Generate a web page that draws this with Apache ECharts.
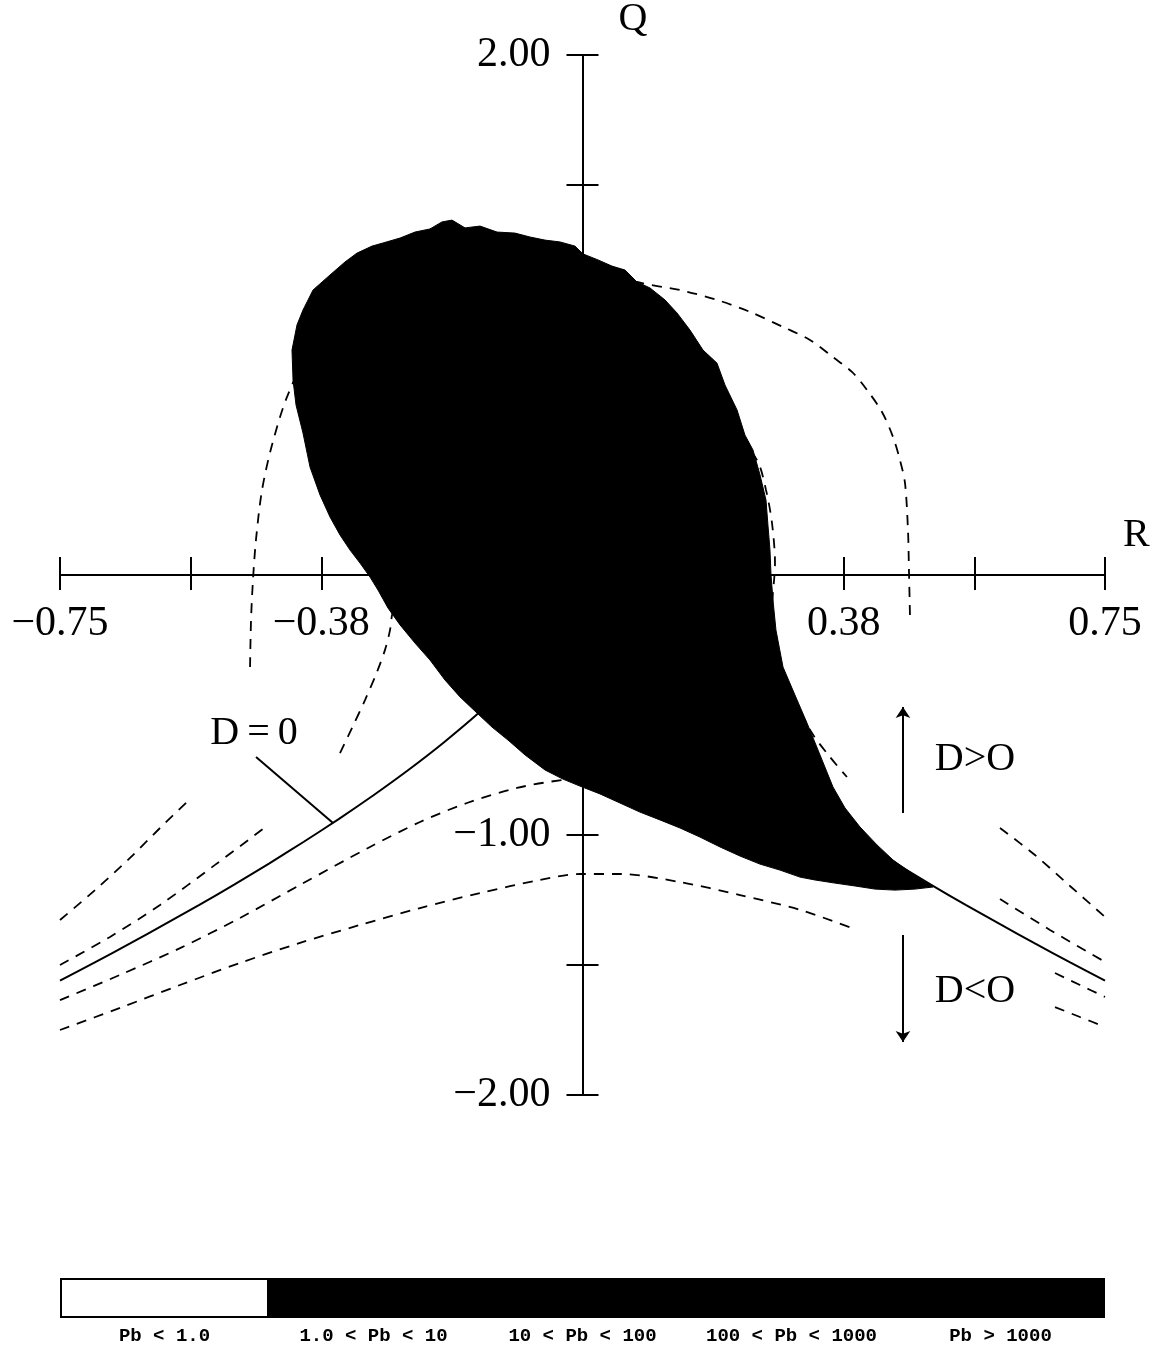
<!DOCTYPE html>
<html>
<head>
<meta charset="utf-8">
<title>Q-R plane</title>
<script src="https://cdn.jsdelivr.net/npm/echarts@6/dist/echarts.min.js"></script>
<style>
    html, body { margin: 0; padding: 0; background: #fff; }
    #qrChart { width: 1156px; height: 1351px; }
</style>
</head>
<body>
<div id="qrChart"></div>
<script>
// 坐标轴刻度
var xTickValues = [-0.75, -0.5625, -0.375, -0.1875, 0, 0.1875, 0.375, 0.5625, 0.75];
var xTickLabels = ['\u22120.75', '', '\u22120.38', '', '', '', '0.38', '', '0.75'];
var yTickValues = [-2, -1.5, -1, -0.5, 0, 0.5, 1, 1.5, 2];
var yTickLabels = ['\u22122.00', '', '\u22121.00', '', '', '', '1.00', '', '2.00'];

// 概率密度区域 (Pb > 1) 的外轮廓
var blobR = [-0.4155, -0.4170, -0.4098, -0.4012, -0.3868, -0.3624, -0.3409, -0.3237, -0.3021, -0.2863,
    -0.2619, -0.2404, -0.2189, -0.2017, -0.1873, -0.1686, -0.1471, -0.1227, -0.0969, -0.0754,
    -0.0538, -0.0323, -0.0108, 0.0007, 0.0222, 0.0423, 0.0610, 0.0782, 0.0969, 0.1184,
    0.1356, 0.1543, 0.1730, 0.1930, 0.2045, 0.2218, 0.2332, 0.2447, 0.2548, 0.2634,
    0.2662, 0.2691, 0.2706, 0.2734, 0.2777, 0.2878, 0.3050, 0.3222, 0.3409, 0.3595,
    0.3768, 0.3983, 0.4227, 0.4457, 0.4701, 0.5031,
    0.4772, 0.4485, 0.4198, 0.3911, 0.3624, 0.3337, 0.3122, 0.2835, 0.2548, 0.2261,
    0.1974, 0.1686, 0.1399, 0.1112, 0.0825, 0.0538, 0.0251, -0.0036, -0.0280, -0.0538,
    -0.0825, -0.1069, -0.1299, -0.1514, -0.1758, -0.1974, -0.2189, -0.2404, -0.2619, -0.2792,
    -0.2935, -0.3050, -0.3194, -0.3337, -0.3481, -0.3624, -0.3768, -0.3911, -0.4012, -0.4112];
var blobQ = [0.750, 0.865, 0.962, 1.019, 1.096, 1.154, 1.204, 1.238, 1.265, 1.277,
    1.296, 1.319, 1.331, 1.358, 1.365, 1.335, 1.342, 1.319, 1.315, 1.300,
    1.288, 1.281, 1.265, 1.235, 1.212, 1.188, 1.173, 1.127, 1.104, 1.058,
    1.008, 0.942, 0.865, 0.815, 0.731, 0.635, 0.538, 0.481, 0.385, 0.288,
    0.192, 0.096, 0, -0.096, -0.212, -0.354, -0.462, -0.569, -0.692, -0.815,
    -0.896, -0.969, -1.038, -1.096, -1.142, -1.200,
    -1.208, -1.212, -1.208, -1.196, -1.185, -1.173, -1.162, -1.135, -1.112, -1.081,
    -1.046, -1.008, -0.973, -0.942, -0.912, -0.877, -0.842, -0.812, -0.785, -0.750,
    -0.692, -0.635, -0.585, -0.531, -0.469, -0.404, -0.327, -0.262, -0.192, -0.127,
    -0.058, -0.008, 0.046, 0.096, 0.154, 0.223, 0.308, 0.415, 0.546, 0.654];

// D=0 曲线
var curveD0 = [[-0.75, -1.560], [-0.70, -1.490], [-0.65, -1.418], [-0.60, -1.344], [-0.55, -1.269],
    [-0.50, -1.191], [-0.45, -1.110], [-0.40, -1.026], [-0.35, -0.939], [-0.30, -0.847],
    [-0.25, -0.750], [-0.20, -0.646], [-0.15, -0.533], [-0.10, -0.407], [-0.05, -0.257], [0, 0],
    [0.05, -0.257], [0.10, -0.407], [0.15, -0.533], [0.20, -0.646], [0.25, -0.750],
    [0.30, -0.847], [0.35, -0.939], [0.40, -1.026], [0.45, -1.110], [0.50, -1.191],
    [0.55, -1.269], [0.60, -1.344], [0.65, -1.418], [0.70, -1.490], [0.75, -1.560]];

// 虚线
var dashOuter = [[-0.4772, -0.354], [-0.4758, -0.173], [-0.4730, -0.019], [-0.4687, 0.135], [-0.4600, 0.327],
    [-0.4457, 0.500], [-0.4241, 0.685], [-0.3911, 0.865], [-0.3337, 1.038], [-0.2332, 1.173],
    [-0.0897, 1.219], [0.0251, 1.181], [0.0782, 1.127], [0.1399, 1.096], [0.1930, 1.058],
    [0.2404, 1.012], [0.2878, 0.954], [0.3265, 0.904], [0.3595, 0.838], [0.3868, 0.781],
    [0.4083, 0.712], [0.4299, 0.627], [0.4457, 0.531], [0.4557, 0.442], [0.4629, 0.354],
    [0.4672, 0.173], [0.4686, 0.019], [0.4701, -0.162]];
var dashInner = [[-0.3481, -0.685], [-0.3308, -0.588], [-0.3122, -0.481], [-0.2950, -0.373], [-0.2835, -0.288],
    [-0.2763, -0.212], [-0.2734, -0.154], [-0.2619, -0.019], [-0.2332, 0.173], [-0.1615, 0.519],
    [-0.0610, 0.731], [0.0538, 0.750], [0.1543, 0.673], [0.2189, 0.538], [0.2505, 0.442],
    [0.2634, 0.327], [0.2720, 0.200], [0.2763, 0.046], [0.2720, -0.135], [0.2806, -0.327],
    [0.3050, -0.481], [0.3294, -0.608], [0.3552, -0.700], [0.3796, -0.777]];
var dashA = [[-0.75, -1.327], [-0.6997, -1.212], [-0.6495, -1.088], [-0.6064, -0.973], [-0.5619, -0.858]];
var dashB = [[-0.75, -1.500], [-0.6782, -1.392], [-0.6064, -1.269], [-0.5275, -1.115], [-0.4514, -0.962]];
var dashC = [[-0.75, -1.635], [-0.6638, -1.538], [-0.5777, -1.435], [-0.4916, -1.319], [-0.4055, -1.192],
    [-0.3050, -1.046], [-0.2332, -0.950], [-0.1658, -0.877], [-0.0940, -0.819], [-0.0280, -0.788],
    [0.0251, -0.777]];
var dashE = [[-0.75, -1.750], [-0.6638, -1.665], [-0.5777, -1.577], [-0.4916, -1.492], [-0.4055, -1.415],
    [-0.3194, -1.346], [-0.2332, -1.281], [-0.1471, -1.223], [-0.0610, -1.173], [-0.0036, -1.150],
    [0.0538, -1.150], [0.1399, -1.181], [0.2261, -1.231], [0.3122, -1.288], [0.3868, -1.358]];
var dashF = [[0.5993, -0.973], [0.6495, -1.077], [0.6997, -1.196], [0.75, -1.315]];
var dashG = [[0.5993, -1.246], [0.6710, -1.365], [0.75, -1.488]];
var dashH = [[0.6782, -1.531], [0.7141, -1.577], [0.75, -1.623]];
var dashI = [[0.6782, -1.662], [0.7141, -1.700], [0.75, -1.738]];

// 标注
var noteLabels = [
    { name: 'D\u2009=\u20090', value: [-0.4715, -0.608] },
    { name: 'D>O', value: [0.5634, -0.708] },
    { name: 'D<O', value: [0.5634, -1.600] }
];
var pointerLine = [[-0.4686, -0.700], [-0.3581, -0.954]];
var arrowUp = [[0.46, -0.915], [0.46, -0.508]];
var arrowDown = [[0.46, -1.385], [0.46, -1.796]];

// 色标
var pbLabels = ['Pb < 1.0', '1.0 < Pb < 10', '10 < Pb < 100', '100 < Pb < 1000', 'Pb > 1000'];
var pbValues = [1, 1, 1, 1, 1];
var pbColors = ['#ffffff', '#000000', '#000000', '#000000', '#000000'];

var serif = 'Liberation Serif';

function pickLabel(values, labels, v) {
    for (var i = 0; i < values.length; i++) {
        if (Math.abs(values[i] - v) < 1e-6) return labels[i];
    }
    return '';
}

function dashSeries(data) {
    return {
        type: 'line',
        data: data,
        xAxisIndex: 0,
        yAxisIndex: 0,
        symbol: 'none',
        smooth: 0.3,
        clip: false,
        z: 3,
        lineStyle: { color: '#000', width: 1.8, type: [10, 8] }
    };
}

function renderBlob(params, api) {
    if (params.dataIndex !== 0) return;
    var pts = [];
    for (var i = 0; i < blobR.length; i++) {
        pts.push(api.coord([blobR[i], blobQ[i]]));
    }
    return {
        type: 'polygon',
        shape: { points: pts },
        style: { fill: '#000', stroke: '#000', lineWidth: 1 }
    };
}

function qrChart() {
    var myChart = echarts.init(document.getElementById('qrChart'));

    // 坐标轴画在原点处 (网格中心)
    var xOffset = -520;
    var yOffset = -522.5;

    var tickLine = { color: '#000', width: 2 };
    var axisLine = { onZero: false, lineStyle: { color: '#000', width: 2 } };
    var labelFont = { fontFamily: serif, fontSize: 42, color: '#000' };

    var blobData = [];
    for (var i = 0; i < blobR.length; i++) blobData.push([blobR[i], blobQ[i]]);

    var series = [
        dashSeries(dashOuter), dashSeries(dashInner), dashSeries(dashA), dashSeries(dashB),
        dashSeries(dashC), dashSeries(dashE), dashSeries(dashF), dashSeries(dashG),
        dashSeries(dashH), dashSeries(dashI),
        {
            type: 'line',
            data: curveD0,
            xAxisIndex: 0,
            yAxisIndex: 0,
            symbol: 'none',
            smooth: 0.2,
            clip: false,
            z: 3,
            lineStyle: { color: '#000', width: 2 }
        },
        {
            type: 'custom',
            data: blobData,
            xAxisIndex: 0,
            yAxisIndex: 0,
            encode: { x: 0, y: 1 },
            renderItem: renderBlob,
            clip: false,
            z: 5
        },
        {
            type: 'lines',
            coordinateSystem: 'cartesian2d',
            xAxisIndex: 0,
            yAxisIndex: 0,
            z: 6,
            lineStyle: { color: '#000', width: 2, opacity: 1 },
            symbol: ['none', 'none'],
            data: [{ coords: pointerLine }]
        },
        {
            type: 'lines',
            coordinateSystem: 'cartesian2d',
            xAxisIndex: 0,
            yAxisIndex: 0,
            z: 6,
            lineStyle: { color: '#000', width: 2, opacity: 1 },
            symbol: ['none', 'arrow'],
            symbolSize: [8, 11],
            data: [{ coords: arrowUp }, { coords: arrowDown }]
        },
        {
            type: 'scatter',
            data: noteLabels,
            xAxisIndex: 0,
            yAxisIndex: 0,
            symbolSize: 0,
            z: 7,
            itemStyle: { opacity: 1 },
            label: {
                show: true,
                position: 'inside',
                formatter: '{b}',
                fontFamily: serif,
                fontSize: 40,
                color: '#000',
                opacity: 1
            }
        },
        {
            type: 'bar',
            xAxisIndex: 2,
            yAxisIndex: 2,
            barWidth: '100%',
            barCategoryGap: 0,
            data: pbValues.map(function (v, i) {
                return {
                    value: v,
                    itemStyle: { color: pbColors[i], borderColor: '#000', borderWidth: 2 }
                };
            })
        }
    ];

    var option = {
        animation: false,
        backgroundColor: '#fff',
        grid: [
            { left: 60, right: 51, top: 55, bottom: 256, containLabel: false, outerBoundsMode: 'none' },
            { left: 60, right: 51, top: 1278, height: 40, containLabel: false, outerBoundsMode: 'none' }
        ],
        xAxis: [{
            type: 'value',
            gridIndex: 0,
            position: 'bottom',
            offset: xOffset,
            min: -0.75,
            max: 0.75,
            interval: 0.1875,
            axisLine: axisLine,
            axisTick: { inside: true, length: 18, lineStyle: tickLine },
            axisLabel: Object.assign({
                margin: 28,
                showMinLabel: true,
                showMaxLabel: true,
                formatter: function (v) { return pickLabel(xTickValues, xTickLabels, v); }
            }, labelFont),
            splitLine: { show: false },
            name: 'R',
            nameLocation: 'end',
            nameGap: 18,
            nameTextStyle: { fontFamily: serif, fontSize: 40, color: '#000', verticalAlign: 'bottom', padding: [0, 0, 20, 0] }
        }, {
            type: 'value',
            gridIndex: 0,
            position: 'bottom',
            offset: xOffset,
            min: -0.75,
            max: 0.75,
            interval: 0.1875,
            axisLine: axisLine,
            axisTick: { inside: false, length: 15, lineStyle: tickLine },
            axisLabel: { show: false },
            splitLine: { show: false }
        }, {
            type: 'category',
            gridIndex: 1,
            data: pbLabels,
            axisLine: { show: false },
            axisTick: { show: false },
            axisLabel: { interval: 0, margin: 9, fontFamily: 'Liberation Mono', fontSize: 19, fontWeight: 'bold', color: '#000' }
        }],
        yAxis: [{
            type: 'value',
            gridIndex: 0,
            position: 'left',
            offset: yOffset,
            min: -2,
            max: 2,
            interval: 0.5,
            axisLine: axisLine,
            axisTick: { inside: true, length: 16, lineStyle: tickLine },
            axisLabel: Object.assign({
                margin: 32,
                showMinLabel: true,
                showMaxLabel: true,
                formatter: function (v) { return pickLabel(yTickValues, yTickLabels, v); }
            }, labelFont),
            splitLine: { show: false },
            name: 'Q',
            nameLocation: 'end',
            nameGap: 16,
            nameTextStyle: { fontFamily: serif, fontSize: 40, color: '#000', align: 'left', padding: [0, 0, 0, 36] }
        }, {
            type: 'value',
            gridIndex: 0,
            position: 'left',
            offset: yOffset,
            min: -2,
            max: 2,
            interval: 0.5,
            axisLine: axisLine,
            axisTick: { inside: false, length: 16, lineStyle: tickLine },
            axisLabel: { show: false },
            splitLine: { show: false }
        }, {
            type: 'value',
            gridIndex: 1,
            min: 0,
            max: 1,
            show: false
        }],
        series: series
    };

    myChart.setOption(option);
}

qrChart();
</script>
</body>
</html>
